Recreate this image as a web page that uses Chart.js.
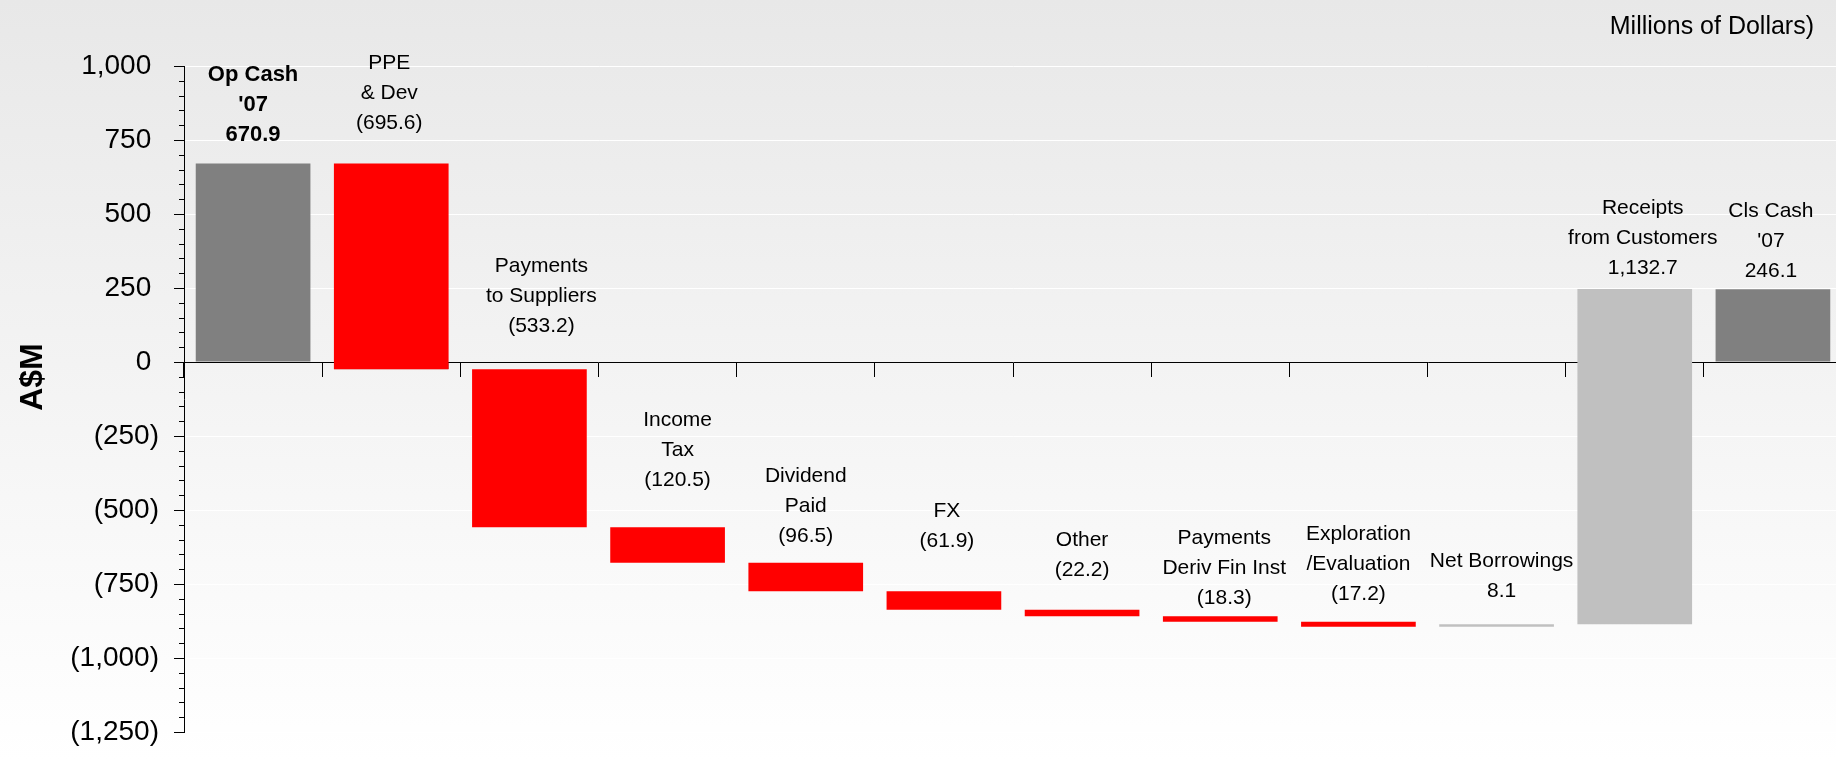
<!DOCTYPE html>
<html>
<head>
<meta charset="utf-8">
<script src="https://cdn.jsdelivr.net/npm/chart.js@4.4.0/dist/chart.umd.min.js"></script>
<style>
  html, body { margin: 0; padding: 0; overflow: hidden; }
  #wrap {
    position: relative;
    width: 1846px;
    height: 761px;
    background: linear-gradient(to bottom, #e8e8e8 0%, #ffffff 100%);
  }
</style>
</head>
<body>
<div id="wrap"><canvas id="cashChart"></canvas></div>
<script>
var categories = ['Op Cash', 'PPE & Dev', 'Payments to Suppliers', 'Income Tax', 'Dividend Paid', 'FX',
  'Other', 'Payments Deriv Fin Inst', 'Exploration /Evaluation', 'Net Borrowings',
  'Receipts from Customers', 'Cls Cash'];
// caption lines printed above each bar (the value goes underneath)
var captions = [['Op Cash', "'07"], ['PPE', '& Dev'], ['Payments', 'to Suppliers'], ['Income', 'Tax'],
  ['Dividend', 'Paid'], ['FX'], ['Other'], ['Payments', 'Deriv Fin Inst'], ['Exploration', '/Evaluation'],
  ['Net Borrowings'], ['Receipts', 'from Customers'], ['Cls Cash', "'07"]];
var flows = [670.9, -695.6, -533.2, -120.5, -96.5, -61.9, -22.2, -18.3, -17.2, 8.1, 1132.7, 246.1];
var isTotal = [true, false, false, false, false, false, false, false, false, false, false, true];
var yMin = -1250, yMax = 1000, yStep = 250, yMinorStep = 50;

// hand nudges for the captions (px above bar top, px sideways)
var labelLift = [22, 34, 37, 41, 21, 44, 34, 12, 22, 27, 15, 12];
var labelDx = [0, -2, 12, 10, 0, 3, 0, 4, 0, 5, 8, -2];

var FONT = '"Liberation Sans", Arial, sans-serif';
Chart.defaults.font.family = FONT;

function fmtNum(v, dec) {
  return Math.abs(v).toLocaleString('en-US', { minimumFractionDigits: dec, maximumFractionDigits: dec });
}
function fmtValue(v) {
  return v < 0 ? '(' + fmtNum(v, 1) + ')' : fmtNum(v, 1);
}

// running total -> floating bars
var ranges = [], outline = [], colors = [], run = 0;
flows.forEach(function (v, i) {
  var start = isTotal[i] ? 0 : run;
  var end = isTotal[i] ? v : run + v;
  run = end;
  ranges.push([start, end]);
  colors.push(isTotal[i] ? '#808080' : (v < 0 ? '#ff0000' : '#c0c0c0'));
  // red bars that dip below zero get the negative slice boxed in black
  outline.push(!isTotal[i] && v < 0 && start > 0 && end < 0 ? [end, 0] : null);
});

var extras = {
  id: 'extras',
  afterDraw: function (chart) {
    var ctx = chart.ctx;
    var y = chart.scales.y;
    ctx.save();

    // minor ticks on the value axis
    ctx.strokeStyle = '#000';
    ctx.lineWidth = 1;
    ctx.beginPath();
    for (var v = yMin; v <= yMax; v += yMinorStep) {
      if (v % yStep === 0) continue;
      var py = Math.round(y.getPixelForValue(v)) + 0.5;
      ctx.moveTo(y.right - 5, py);
      ctx.lineTo(y.right, py);
    }
    ctx.stroke();

    // captions over the bars
    ctx.fillStyle = '#000';
    ctx.textAlign = 'center';
    ctx.textBaseline = 'alphabetic';
    chart.getDatasetMeta(0).data.forEach(function (bar, i) {
      var top = Math.min(bar.y, bar.base);
      var lines = captions[i].concat([fmtValue(flows[i])]);
      ctx.font = i === 0 ? 'bold 22px ' + FONT : '21px ' + FONT;
      var ly = top - labelLift[i];
      for (var k = lines.length - 1; k >= 0; k--) {
        ctx.fillText(lines[k], bar.x + labelDx[i], ly);
        ly -= 30;
      }
    });

    // units note
    ctx.font = '25px ' + FONT;
    ctx.textAlign = 'right';
    ctx.fillText('Millions of Dollars)', 1814, 34);

    // axis title
    ctx.translate(33, 377);
    ctx.rotate(-Math.PI / 2);
    ctx.textAlign = 'center';
    ctx.textBaseline = 'middle';
    ctx.font = 'bold 32px ' + FONT;
    ctx.fillText('A$M', 0, 0);
    ctx.restore();
  }
};

var ctx = document.getElementById('cashChart').getContext('2d');
var chart = new Chart(ctx, {
  type: 'bar',
  data: {
    labels: categories,
    datasets: [{
      data: ranges,
      backgroundColor: colors,
      borderWidth: 0,
      grouped: false,
      barPercentage: 1,
      categoryPercentage: 0.83
    }, {
      data: outline,
      backgroundColor: '#ff0000',
      borderColor: '#000',
      borderWidth: 1.5,
      borderSkipped: false,
      grouped: false,
      barPercentage: 1,
      categoryPercentage: 0.83
    }]
  },
  options: {
    responsive: true,
    maintainAspectRatio: false,
    animation: false,
    layout: { padding: { top: 66, bottom: 15, left: 0, right: 4 } },
    plugins: { legend: { display: false }, tooltip: { enabled: false } },
    scales: {
      x: {
        position: { y: 0 },
        ticks: { display: false },
        grid: { drawOnChartArea: false, drawTicks: true, tickLength: 14, tickColor: '#000', tickWidth: 1 },
        border: { color: '#000', width: 1 }
      },
      y: {
        min: yMin,
        max: yMax,
        afterFit: function (scale) { scale.width = 184; },
        ticks: {
          stepSize: yStep,
          padding: 15,
          color: '#000',
          font: { size: 28, lineHeight: 1 },
          callback: function (v) {
            return v < 0 ? '(' + fmtNum(v, 0) + ')' : fmtNum(v, 0) + '\u2008';
          }
        },
        grid: {
          color: function (c) { return c.tick && c.tick.value === 0 ? 'rgba(0,0,0,0)' : '#ffffff'; },
          lineWidth: 1,
          tickLength: 10,
          tickColor: '#000'
        },
        border: { color: '#000', width: 1 }
      }
    }
  },
  plugins: [extras]
});
</script>
</body>
</html>
